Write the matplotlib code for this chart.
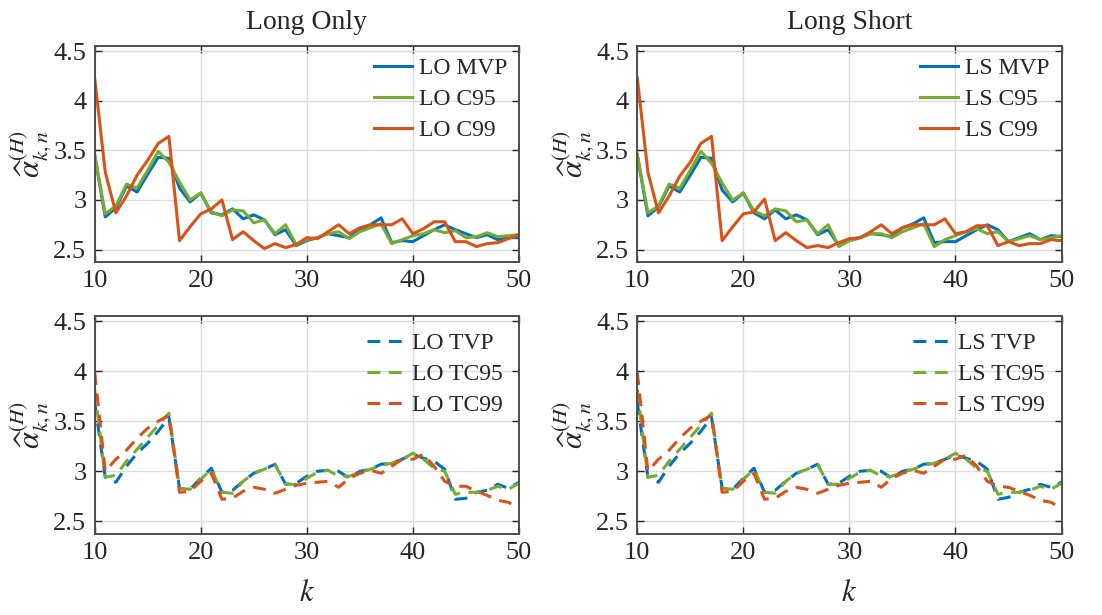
import numpy as np
import matplotlib
matplotlib.use("Agg")
import matplotlib.pyplot as plt

plt.rcParams['font.family'] = ['Liberation Serif', 'DejaVu Serif']
plt.rcParams['mathtext.fontset'] = 'stix'

k = np.arange(10, 51)

# top row - solid lines
lo_mvp = [3.45, 2.83, 2.92, 3.14, 3.08, 3.26, 3.43, 3.42, 3.12, 2.98,
          3.07, 2.87, 2.85, 2.91, 2.81, 2.85, 2.80, 2.65, 2.70, 2.54,
          2.59, 2.62, 2.66, 2.64, 2.62, 2.70, 2.75, 2.82, 2.57, 2.59,
          2.58, 2.64, 2.70, 2.75, 2.70, 2.66, 2.62, 2.65, 2.60, 2.62, 2.62]
lo_c95 = [3.46, 2.86, 2.94, 3.16, 3.12, 3.30, 3.49, 3.38, 3.18, 3.00,
          3.07, 2.88, 2.84, 2.90, 2.89, 2.77, 2.80, 2.66, 2.75, 2.55,
          2.60, 2.62, 2.66, 2.68, 2.61, 2.68, 2.72, 2.76, 2.56, 2.60,
          2.64, 2.66, 2.70, 2.67, 2.69, 2.62, 2.63, 2.67, 2.63, 2.64, 2.65]
lo_c99 = [4.23, 3.28, 2.87, 3.04, 3.25, 3.40, 3.57, 3.64, 2.59, 2.73,
          2.86, 2.91, 3.00, 2.60, 2.68, 2.59, 2.51, 2.56, 2.52, 2.55,
          2.62, 2.61, 2.68, 2.75, 2.66, 2.72, 2.75, 2.75, 2.75, 2.81,
          2.66, 2.71, 2.78, 2.78, 2.58, 2.58, 2.53, 2.56, 2.57, 2.61, 2.65]

ls_mvp = [3.45, 2.84, 2.93, 3.14, 3.08, 3.25, 3.43, 3.42, 3.10, 2.98,
          3.07, 2.87, 2.81, 2.90, 2.81, 2.85, 2.80, 2.65, 2.70, 2.54,
          2.59, 2.62, 2.66, 2.65, 2.63, 2.72, 2.76, 2.82, 2.57, 2.58,
          2.58, 2.64, 2.70, 2.75, 2.70, 2.58, 2.62, 2.66, 2.60, 2.64, 2.63]
ls_c95 = [3.46, 2.87, 2.94, 3.16, 3.12, 3.30, 3.49, 3.37, 3.17, 3.00,
          3.07, 2.89, 2.84, 2.91, 2.89, 2.78, 2.80, 2.66, 2.75, 2.53,
          2.59, 2.62, 2.66, 2.66, 2.62, 2.68, 2.72, 2.76, 2.53, 2.60,
          2.64, 2.68, 2.71, 2.66, 2.68, 2.58, 2.61, 2.64, 2.60, 2.62, 2.64]
ls_c99 = [4.23, 3.28, 2.87, 3.04, 3.24, 3.38, 3.57, 3.64, 2.59, 2.73,
          2.86, 2.88, 3.01, 2.59, 2.67, 2.59, 2.52, 2.54, 2.52, 2.57,
          2.61, 2.62, 2.68, 2.75, 2.66, 2.72, 2.75, 2.75, 2.75, 2.81,
          2.66, 2.68, 2.74, 2.74, 2.54, 2.58, 2.54, 2.56, 2.56, 2.60, 2.59]

# bottom row - dashed lines
lo_tvp = [3.69, 2.94, 2.89, 3.05, 3.18, 3.28, 3.40, 3.54, 2.83, 2.82,
          2.93, 3.03, 2.79, 2.81, 2.90, 2.98, 3.02, 3.07, 2.87, 2.88,
          2.95, 3.00, 3.01, 3.00, 2.93, 3.00, 3.02, 3.07, 3.08, 3.12,
          3.17, 3.13, 3.10, 3.02, 2.72, 2.73, 2.79, 2.81, 2.87, 2.83, 2.89]
lo_tc95 = [3.82, 2.94, 2.96, 3.10, 3.22, 3.34, 3.46, 3.58, 2.83, 2.82,
           2.92, 3.02, 2.79, 2.78, 2.90, 2.98, 3.02, 3.07, 2.87, 2.87,
           2.93, 2.99, 3.01, 2.95, 2.95, 2.99, 3.02, 3.06, 3.08, 3.12,
           3.18, 3.12, 3.03, 3.00, 2.77, 2.79, 2.79, 2.81, 2.85, 2.82, 2.88]
lo_tc99 = [3.99, 3.00, 3.12, 3.21, 3.33, 3.43, 3.50, 3.56, 2.79, 2.80,
           2.90, 2.98, 2.72, 2.73, 2.80, 2.84, 2.82, 2.78, 2.82, 2.86,
           2.88, 2.89, 2.90, 2.84, 2.93, 2.98, 3.01, 2.98, 3.05, 3.12,
           3.12, 3.17, 3.05, 2.90, 2.85, 2.85, 2.80, 2.76, 2.71, 2.69, 2.63]

ls_tvp = [3.69, 2.94, 2.89, 3.05, 3.18, 3.28, 3.40, 3.54, 2.83, 2.82,
          2.93, 3.03, 2.79, 2.81, 2.90, 2.98, 3.02, 3.07, 2.87, 2.88,
          2.95, 3.00, 3.01, 3.00, 2.93, 3.00, 3.02, 3.07, 3.08, 3.12,
          3.16, 3.13, 3.10, 3.02, 2.72, 2.74, 2.79, 2.82, 2.87, 2.84, 2.89]
ls_tc95 = [3.82, 2.94, 2.96, 3.10, 3.22, 3.34, 3.46, 3.58, 2.83, 2.82,
           2.92, 3.02, 2.79, 2.78, 2.90, 2.98, 3.02, 3.07, 2.87, 2.87,
           2.93, 2.99, 3.01, 2.95, 2.95, 2.99, 3.02, 3.06, 3.08, 3.12,
           3.18, 3.12, 3.03, 3.00, 2.77, 2.79, 2.79, 2.81, 2.85, 2.82, 2.88]
ls_tc99 = [3.99, 3.00, 3.12, 3.21, 3.33, 3.43, 3.50, 3.56, 2.79, 2.80,
           2.90, 2.98, 2.72, 2.73, 2.80, 2.84, 2.82, 2.78, 2.82, 2.86,
           2.88, 2.89, 2.90, 2.84, 2.93, 2.98, 3.01, 2.98, 3.05, 3.12,
           3.12, 3.16, 3.05, 2.90, 2.85, 2.84, 2.80, 2.76, 2.71, 2.69, 2.63]

blue = '#0072BD'
green = '#77AC30'
orange = '#D95319'
axcol = '#262626'

fig = plt.figure(figsize=(11.02, 6.15), dpi=100)

# axes boxes [left, bottom, width, height] in figure fraction
boxes = {
    'tl': [0.0859, 0.574, 0.385, 0.351],
    'tr': [0.5783, 0.574, 0.385, 0.351],
    'bl': [0.0859, 0.132, 0.385, 0.354],
    'br': [0.5783, 0.132, 0.385, 0.354],
}

panels = [
    ('tl', [lo_mvp, lo_c95, lo_c99], ['LO MVP', 'LO C95', 'LO C99'], '-', 'Long Only', False),
    ('tr', [ls_mvp, ls_c95, ls_c99], ['LS MVP', 'LS C95', 'LS C99'], '-', 'Long Short', False),
    ('bl', [lo_tvp, lo_tc95, lo_tc99], ['LO TVP', 'LO TC95', 'LO TC99'], '--', None, True),
    ('br', [ls_tvp, ls_tc95, ls_tc99], ['LS TVP', 'LS TC95', 'LS TC99'], '--', None, True),
]

for key, series, labels, ls, title, xlab in panels:
    ax = fig.add_axes(boxes[key])
    for y, lab, c in zip(series, labels, [blue, green, orange]):
        line, = ax.plot(k, y, ls, color=c, lw=2.2, label=lab)
        if ls == '--':
            line.set_dashes((4.2, 2.8))
    ax.set_xlim(10, 50)
    ax.set_ylim(2.375, 4.55)
    ax.set_xticks([10, 20, 30, 40, 50])
    ax.set_yticks([2.5, 3, 3.5, 4, 4.5])
    ax.set_yticklabels(['2.5', '3', '3.5', '4', '4.5'])
    ax.grid(True, color='#dcdcdc', lw=1.0)
    ax.set_axisbelow(True)
    ax.tick_params(direction='in', top=True, right=True, length=5, width=1.0,
                   colors=axcol, labelsize=19, pad=6)
    for s in ax.spines.values():
        s.set_color('#4d4d4d')
        s.set_linewidth(1.4)
    ax.set_ylabel(r'$\widehat{\alpha}^{(H)}_{k,n}$', fontsize=22, color=axcol, labelpad=0)
    if title:
        ax.set_title(title, fontsize=20, color=axcol, pad=12)
    if xlab:
        ax.set_xlabel(r'$k$', fontsize=22, color=axcol, labelpad=11)
    leg = ax.legend(loc='upper right', frameon=False, fontsize=17, handlelength=1.6,
                    handletextpad=0.3, labelspacing=0.4,
                    borderaxespad=0.1 if not xlab else 0.3)
    for t in leg.get_texts():
        t.set_color(axcol)

fig.savefig('out.png', dpi=100)
